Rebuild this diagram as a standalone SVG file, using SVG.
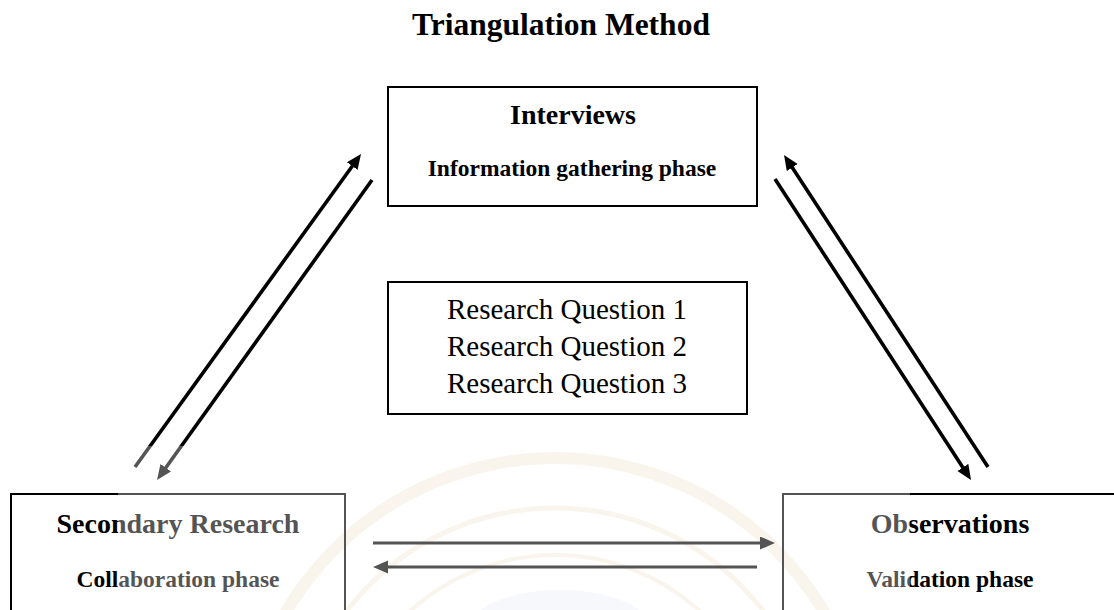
<svg xmlns="http://www.w3.org/2000/svg" width="1114" height="610" viewBox="0 0 1114 610">
  <style>
    .box { fill: none; stroke: #000; stroke-width: 2; }
    .head { font-family: "Liberation Serif", "Times New Roman", serif; font-weight: bold; font-size: 28px; text-anchor: middle; fill: #000; }
    .sub { font-family: "Liberation Serif", "Times New Roman", serif; font-weight: bold; font-size: 23.5px; text-anchor: middle; fill: #000; }
    .rq { font-family: "Liberation Serif", "Times New Roman", serif; font-size: 29px; text-anchor: middle; fill: #000; }
    .title { font-family: "Liberation Serif", "Times New Roman", serif; font-weight: bold; font-size: 31.5px; text-anchor: middle; fill: #000; }
    .diag { stroke: #000; stroke-width: 3.6; fill: none; marker-end: url(#head); }
    .flat { stroke: #000; stroke-width: 3.2; fill: none; marker-end: url(#head); }
    .ring { fill: none; stroke: #f5eddb; }
  </style>
  <defs>
    <marker id="head" markerUnits="userSpaceOnUse" markerWidth="16" markerHeight="14" refX="3" refY="6.5" orient="auto">
      <path d="M0,0 L15,6.5 L0,13 z" fill="#000"/>
    </marker>
  </defs>

  <rect width="1114" height="610" fill="#fff"/>

  <!-- faint emblem behind the lower part of the page -->
  <g id="emblem" opacity="0.75">
    <circle class="ring" cx="555" cy="770" r="312" stroke-width="12"/>
    <circle class="ring" cx="555" cy="770" r="262" stroke-width="5"/>
    <circle class="ring" cx="555" cy="770" r="215" stroke-width="4"/>
    <ellipse cx="560" cy="628" rx="90" ry="38" fill="#eef2f8"/>
  </g>

  <text class="title" x="561" y="35">Triangulation Method</text>

  <g id="interviews">
    <rect class="box" x="388" y="87" width="369" height="119"/>
    <text class="head" x="573" y="124">Interviews</text>
    <text class="sub" x="572" y="176">Information gathering phase</text>
  </g>

  <g id="questions">
    <rect class="box" x="388" y="282" width="359" height="132"/>
    <text class="rq" x="567" y="319">Research Question 1</text>
    <text class="rq" x="567" y="356">Research Question 2</text>
    <text class="rq" x="567" y="393">Research Question 3</text>
  </g>

  <g id="secondary">
    <path class="box" d="M11,615 V494 H345 V615"/>
    <text class="head" x="178" y="533">Secondary Research</text>
    <text class="sub" x="178" y="587">Collaboration phase</text>
  </g>

  <g id="observations">
    <path class="box" d="M783,615 V494 H1120"/>
    <text class="head" x="950" y="533">Observations</text>
    <text class="sub" x="950" y="587">Validation phase</text>
  </g>

  <g id="connectors">
    <line class="diag" x1="135" y1="467" x2="354" y2="163.7"/>
    <line class="diag" x1="372" y1="180" x2="164" y2="470.2"/>
    <line class="diag" x1="988" y1="467" x2="790.6" y2="165"/>
    <line class="diag" x1="775" y1="179" x2="964.5" y2="469.9"/>
    <line class="flat" x1="373" y1="543" x2="763" y2="543"/>
    <line class="flat" x1="757" y1="567" x2="385" y2="567"/>
  </g>

  <!-- translucent band that softens everything in the lower middle -->
  <rect x="118" y="446" width="792" height="170" fill="#fff" opacity="0.33"/>
</svg>
